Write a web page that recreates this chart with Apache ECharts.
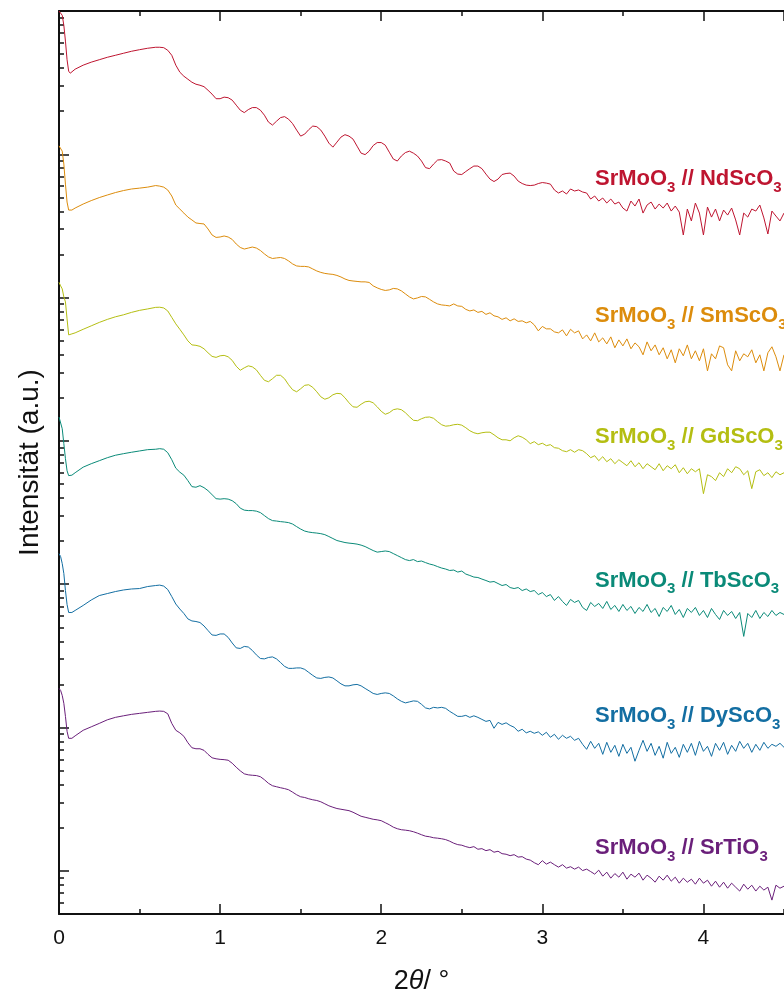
<!DOCTYPE html>
<html>
<head>
<meta charset="utf-8">
<title>XRR SrMoO3 films</title>
<script src="https://cdn.jsdelivr.net/npm/echarts@6/dist/echarts.min.js"></script>
<style>
  html, body { margin: 0; padding: 0; background: #ffffff; }
  #chart { width: 784px; height: 1000px; }
</style>
</head>
<body>
<div id="chart"></div>
<script>
// Scattering angle 2θ in degrees (shared measurement grid)
const twoTheta = [
  0, 0.01, 0.02, 0.03, 0.04, 0.05, 0.06, 0.07, 0.08, 0.1, 0.15, 0.2, 0.25, 0.3, 0.35, 0.4, 0.45, 0.5, 0.55,
  0.6, 0.625, 0.65, 0.675, 0.7, 0.725, 0.75, 0.775, 0.8, 0.825,
  0.85, 0.875, 0.9, 0.925, 0.95, 0.975, 1.0, 1.025, 1.05, 1.075,
  1.1, 1.125, 1.15, 1.175, 1.2, 1.225, 1.25, 1.275, 1.3, 1.325,
  1.35, 1.375, 1.4, 1.425, 1.45, 1.475, 1.5, 1.525, 1.55, 1.575,
  1.6, 1.625, 1.65, 1.675, 1.7, 1.725, 1.75, 1.775, 1.8, 1.825,
  1.85, 1.875, 1.9, 1.925, 1.95, 1.975, 2.0, 2.025, 2.05, 2.075,
  2.1, 2.125, 2.15, 2.175, 2.2, 2.225, 2.25, 2.275, 2.3, 2.325,
  2.35, 2.375, 2.4, 2.425, 2.45, 2.475, 2.5, 2.525, 2.55, 2.575,
  2.6, 2.625, 2.65, 2.675, 2.7, 2.725, 2.75, 2.775, 2.8, 2.825,
  2.85, 2.875, 2.9, 2.925, 2.95, 2.975, 3.0, 3.025, 3.05, 3.075,
  3.1, 3.125, 3.15, 3.175, 3.2, 3.225, 3.25, 3.275, 3.3, 3.325,
  3.35, 3.375, 3.4, 3.425, 3.45, 3.475, 3.5, 3.525, 3.55, 3.575,
  3.6, 3.625, 3.65, 3.675, 3.7, 3.725, 3.75, 3.775, 3.8, 3.825,
  3.85, 3.875, 3.9, 3.925, 3.95, 3.975, 4.0, 4.025, 4.05, 4.075,
  4.1, 4.125, 4.15, 4.175, 4.2, 4.225, 4.25, 4.275, 4.3, 4.325,
  4.35, 4.375, 4.4, 4.425, 4.45, 4.475, 4.5
];

// log10 of the reflected intensity (a.u., curves stacked with offsets)
const logNdScO3 = [
  6.00, 6.00, 5.97, 5.90, 5.79, 5.66, 5.58, 5.566, 5.576, 5.594, 5.622, 5.643, 5.660, 5.677, 5.691, 5.705, 5.719, 5.730, 5.740,
  5.747, 5.747, 5.744, 5.726, 5.691, 5.622, 5.573, 5.545, 5.524, 5.503,
  5.489, 5.482, 5.472, 5.447, 5.420, 5.388, 5.388, 5.399, 5.395, 5.378,
  5.343, 5.308, 5.291, 5.312, 5.326, 5.326, 5.308, 5.273, 5.225, 5.204,
  5.231, 5.256, 5.263, 5.245, 5.214, 5.169, 5.127, 5.141, 5.172, 5.197,
  5.193, 5.169, 5.127, 5.078, 5.050, 5.085, 5.120, 5.137, 5.127, 5.106,
  5.057, 5.008, 4.998, 5.022, 5.061, 5.082, 5.082, 5.064, 5.015, 4.967,
  4.953, 4.988, 5.012, 5.022, 5.008, 4.988, 4.953, 4.907, 4.900, 4.932,
  4.960, 4.963, 4.953, 4.939, 4.883, 4.862, 4.859, 4.880, 4.900, 4.918,
  4.918, 4.900, 4.862, 4.827, 4.810, 4.827, 4.859, 4.866, 4.869, 4.848,
  4.813, 4.796, 4.785, 4.782, 4.785, 4.796, 4.803, 4.799, 4.792, 4.751,
  4.730, 4.744, 4.723, 4.758, 4.744, 4.751, 4.737, 4.730, 4.688, 4.709,
  4.674, 4.695, 4.660, 4.688, 4.653, 4.667, 4.625, 4.604, 4.674, 4.639,
  4.688, 4.590, 4.646, 4.667, 4.618, 4.653, 4.625, 4.660, 4.604, 4.639,
  4.597, 4.437, 4.618, 4.535, 4.660, 4.590, 4.437, 4.632, 4.562, 4.618,
  4.535, 4.611, 4.576, 4.625, 4.542, 4.437, 4.590, 4.562, 4.618, 4.604,
  4.646, 4.556, 4.444, 4.604, 4.569, 4.535, 4.590
];

const logSmScO3 = [
  5.059, 5.050, 5.022, 4.932, 4.792, 4.667, 4.611, 4.604, 4.611, 4.625, 4.653, 4.677, 4.698, 4.716, 4.733, 4.747, 4.758, 4.764, 4.771,
  4.782, 4.778, 4.771, 4.751, 4.709, 4.646, 4.618, 4.590, 4.562, 4.542,
  4.521, 4.517, 4.514, 4.479, 4.437, 4.420, 4.423, 4.430, 4.423, 4.406,
  4.374, 4.350, 4.339, 4.346, 4.353, 4.346, 4.329, 4.305, 4.284, 4.273,
  4.277, 4.280, 4.273, 4.256, 4.235, 4.221, 4.218, 4.218, 4.214, 4.200,
  4.186, 4.176, 4.169, 4.165, 4.162, 4.155, 4.144, 4.130, 4.120, 4.116,
  4.113, 4.110, 4.110, 4.106, 4.082, 4.068, 4.057, 4.050, 4.054, 4.064,
  4.061, 4.047, 4.026, 4.005, 3.991, 3.998, 4.008, 4.005, 3.988, 3.970,
  3.956, 3.949, 3.946, 3.942, 3.956, 3.942, 3.939, 3.918, 3.907, 3.914,
  3.897, 3.904, 3.883, 3.894, 3.873, 3.866, 3.848, 3.859, 3.838, 3.852,
  3.834, 3.838, 3.824, 3.834, 3.810, 3.768, 3.799, 3.782, 3.782, 3.761,
  3.754, 3.775, 3.733, 3.779, 3.754, 3.768, 3.712, 3.740, 3.698, 3.754,
  3.691, 3.719, 3.677, 3.726, 3.650, 3.705, 3.663, 3.712, 3.643, 3.684,
  3.657, 3.601, 3.691, 3.629, 3.670, 3.601, 3.650, 3.573, 3.636, 3.545,
  3.643, 3.594, 3.670, 3.573, 3.629, 3.559, 3.643, 3.489, 3.608, 3.573,
  3.663, 3.650, 3.531, 3.489, 3.629, 3.559, 3.608, 3.587, 3.636, 3.545,
  3.601, 3.489, 3.615, 3.657, 3.587, 3.489, 3.601
];

const logGdScO3 = [
  4.107, 4.082, 4.061, 4.005, 3.970, 3.852, 3.740, 3.740, 3.747, 3.754, 3.779, 3.803, 3.827, 3.848, 3.866, 3.880, 3.897, 3.911, 3.921,
  3.932, 3.933, 3.928, 3.907, 3.862, 3.817, 3.779, 3.740, 3.698, 3.670,
  3.667, 3.660, 3.643, 3.615, 3.590, 3.583, 3.594, 3.597, 3.587, 3.562,
  3.521, 3.493, 3.510, 3.524, 3.517, 3.496, 3.458, 3.423, 3.413, 3.434,
  3.458, 3.458, 3.434, 3.392, 3.357, 3.343, 3.364, 3.388, 3.392, 3.374,
  3.343, 3.308, 3.291, 3.301, 3.322, 3.332, 3.329, 3.301, 3.266, 3.238,
  3.235, 3.256, 3.273, 3.277, 3.266, 3.238, 3.207, 3.186, 3.197, 3.218,
  3.224, 3.218, 3.197, 3.169, 3.144, 3.141, 3.155, 3.165, 3.167, 3.158,
  3.134, 3.113, 3.103, 3.106, 3.113, 3.116, 3.110, 3.092, 3.071, 3.057,
  3.050, 3.057, 3.061, 3.061, 3.043, 3.022, 3.008, 3.008, 3.001, 3.022,
  3.036, 3.026, 3.008, 2.981, 2.995, 2.974, 2.984, 2.967, 2.974, 2.953,
  2.949, 2.932, 2.925, 2.939, 2.921, 2.939, 2.932, 2.911, 2.883, 2.897,
  2.862, 2.890, 2.855, 2.876, 2.841, 2.869, 2.848, 2.827, 2.862, 2.820,
  2.848, 2.806, 2.841, 2.820, 2.799, 2.841, 2.792, 2.827, 2.806, 2.834,
  2.778, 2.813, 2.771, 2.806, 2.785, 2.806, 2.632, 2.764, 2.751, 2.723,
  2.778, 2.751, 2.806, 2.778, 2.820, 2.806, 2.764, 2.792, 2.667, 2.785,
  2.799, 2.758, 2.778, 2.744, 2.785, 2.764, 2.778
];

const logTbScO3 = [
  3.167, 3.155, 3.085, 2.981, 2.876, 2.792, 2.758, 2.754, 2.761, 2.778, 2.817, 2.841, 2.862, 2.883, 2.900, 2.911, 2.921, 2.930, 2.939,
  2.942, 2.946, 2.942, 2.918, 2.869, 2.810, 2.782, 2.761, 2.723, 2.681,
  2.677, 2.688, 2.674, 2.653, 2.625, 2.597, 2.594, 2.597, 2.594, 2.583,
  2.562, 2.531, 2.517, 2.514, 2.514, 2.510, 2.500, 2.479, 2.458, 2.444,
  2.441, 2.437, 2.434, 2.430, 2.420, 2.402, 2.385, 2.371, 2.364, 2.360,
  2.357, 2.353, 2.346, 2.333, 2.319, 2.305, 2.298, 2.291, 2.287, 2.284,
  2.280, 2.273, 2.263, 2.249, 2.235, 2.224, 2.228, 2.232, 2.228, 2.214,
  2.200, 2.186, 2.172, 2.165, 2.172, 2.158, 2.162, 2.151, 2.141, 2.134,
  2.123, 2.113, 2.106, 2.096, 2.099, 2.085, 2.092, 2.071, 2.061, 2.050,
  2.047, 2.036, 2.026, 2.015, 2.019, 2.005, 1.991, 1.998, 1.977, 1.970,
  1.977, 1.956, 1.967, 1.949, 1.956, 1.928, 1.942, 1.914, 1.928, 1.887,
  1.914, 1.880, 1.852, 1.894, 1.873, 1.887, 1.838, 1.817, 1.873, 1.845,
  1.866, 1.831, 1.880, 1.824, 1.852, 1.810, 1.859, 1.817, 1.845, 1.796,
  1.838, 1.810, 1.859, 1.803, 1.831, 1.775, 1.838, 1.810, 1.852, 1.789,
  1.824, 1.768, 1.831, 1.803, 1.838, 1.782, 1.817, 1.768, 1.831, 1.789,
  1.754, 1.817, 1.782, 1.810, 1.761, 1.803, 1.636, 1.796, 1.768, 1.817,
  1.761, 1.803, 1.775, 1.817, 1.782, 1.803, 1.789
];

const logDyScO3 = [
  2.214, 2.193, 2.144, 2.075, 1.956, 1.859, 1.803, 1.792, 1.803, 1.817, 1.852, 1.890, 1.921, 1.935, 1.949, 1.960, 1.967, 1.970, 1.984,
  1.991, 1.994, 1.987, 1.963, 1.914, 1.862, 1.827, 1.796, 1.758, 1.744,
  1.740, 1.733, 1.709, 1.677, 1.646, 1.643, 1.653, 1.653, 1.629, 1.590,
  1.556, 1.552, 1.566, 1.562, 1.538, 1.507, 1.482, 1.479, 1.489, 1.493,
  1.479, 1.454, 1.427, 1.413, 1.413, 1.416, 1.416, 1.406, 1.385, 1.364,
  1.346, 1.343, 1.350, 1.353, 1.346, 1.326, 1.305, 1.291, 1.291, 1.298,
  1.301, 1.291, 1.273, 1.256, 1.238, 1.231, 1.238, 1.242, 1.238, 1.221,
  1.200, 1.183, 1.172, 1.179, 1.186, 1.183, 1.162, 1.137, 1.130, 1.141,
  1.137, 1.141, 1.134, 1.113, 1.096, 1.078, 1.078, 1.085, 1.071, 1.082,
  1.071, 1.057, 1.043, 1.050, 0.995, 1.036, 1.022, 1.033, 1.015, 1.002,
  0.974, 0.988, 0.963, 0.974, 0.960, 0.970, 0.946, 0.967, 0.932, 0.953,
  0.918, 0.946, 0.925, 0.939, 0.911, 0.925, 0.883, 0.848, 0.904, 0.855,
  0.890, 0.813, 0.897, 0.827, 0.876, 0.799, 0.883, 0.820, 0.862, 0.765,
  0.841, 0.911, 0.834, 0.890, 0.806, 0.869, 0.786, 0.897, 0.820, 0.862,
  0.792, 0.883, 0.827, 0.890, 0.806, 0.904, 0.834, 0.869, 0.799, 0.890,
  0.841, 0.897, 0.813, 0.876, 0.834, 0.904, 0.855, 0.890, 0.827, 0.883,
  0.841, 0.897, 0.855, 0.883, 0.869, 0.890, 0.862
];

const logSrTiO3 = [
  1.273, 1.259, 1.224, 1.169, 1.078, 0.974, 0.925, 0.914, 0.925, 0.942, 0.981, 1.005, 1.029, 1.054, 1.071, 1.082, 1.092, 1.099, 1.106,
  1.113, 1.115, 1.113, 1.096, 1.029, 0.981, 0.963, 0.939, 0.894, 0.859,
  0.852, 0.852, 0.841, 0.813, 0.789, 0.782, 0.778, 0.776, 0.772, 0.751,
  0.723, 0.698, 0.677, 0.670, 0.667, 0.665, 0.657, 0.636, 0.611, 0.594,
  0.587, 0.580, 0.574, 0.566, 0.549, 0.531, 0.517, 0.512, 0.503, 0.496,
  0.491, 0.482, 0.468, 0.454, 0.444, 0.435, 0.430, 0.425, 0.420, 0.409,
  0.395, 0.381, 0.374, 0.367, 0.360, 0.356, 0.350, 0.336, 0.322, 0.305,
  0.294, 0.287, 0.284, 0.280, 0.273, 0.263, 0.252, 0.242, 0.238, 0.231,
  0.228, 0.224, 0.218, 0.207, 0.193, 0.183, 0.179, 0.169, 0.162, 0.169,
  0.151, 0.155, 0.141, 0.148, 0.130, 0.137, 0.120, 0.116, 0.106, 0.113,
  0.096, 0.099, 0.082, 0.075, 0.057, 0.043, 0.071, 0.047, 0.061, 0.043,
  0.026, 0.043, 0.019, 0.029, 0.012, 0.026, 0.002, 0.012, -0.005, -0.023,
  0.005, -0.037, -0.009, -0.051, -0.019, -0.044, -0.009, -0.058, -0.023, -0.044,
  -0.016, -0.065, -0.030, -0.051, -0.079, -0.037, -0.065, -0.030, -0.072, -0.044,
  -0.086, -0.051, -0.079, -0.058, -0.093, -0.051, -0.086, -0.065, -0.107, -0.072,
  -0.114, -0.079, -0.121, -0.086, -0.114, -0.141, -0.093, -0.128, -0.100, -0.141,
  -0.107, -0.134, -0.114, -0.204, -0.100, -0.121, -0.107
];

// Film / substrate names and their colours
const filmName = 'SrMoO3';
const substrates = ['NdScO3', 'SmScO3', 'GdScO3', 'TbScO3', 'DyScO3', 'SrTiO3'];
const seriesColors = ['#BE1530', '#DC8C0C', '#B4BE12', '#0A8A78', '#136EA2', '#6A1F7A'];
const seriesData = [logNdScO3, logSmScO3, logGdScO3, logTbScO3, logDyScO3, logSrTiO3];

// Axis ticks: log decades with 2..9 minors
const decadeExponents = [0, 1, 2, 3, 4, 5, 6];
const minorMultipliers = [2, 3, 4, 5, 6, 7, 8, 9];

const Y_MIN = Math.log10(0.5);
const Y_MAX = 6;
const minorLogTicks = [];
for (let k = -1; k < Y_MAX; k++) {
  minorMultipliers.forEach(m => {
    const v = k + Math.log10(m);
    if (v > Y_MIN + 1e-6 && v < Y_MAX) minorLogTicks.push(v);
  });
}

const FONT = "'Liberation Sans', Arial, Helvetica, sans-serif";
const AXIS_COLOR = '#111111';

function splitFormula(s) {
  // 'NdScO3' -> ['NdScO', '3']
  const m = s.match(/^(.*?)(\d+)$/);
  return m ? [m[1], m[2]] : [s, ''];
}

const chart = echarts.init(document.getElementById('chart'), null, { renderer: 'canvas', width: 784, height: 1000 });

const series = seriesData.map((arr, i) => ({
  name: filmName + ' // ' + substrates[i],
  type: 'line',
  xAxisIndex: 0,
  yAxisIndex: 0,
  data: twoTheta.map((t, j) => [t, arr[j]]),
  showSymbol: false,
  symbol: 'none',
  smooth: false,
  clip: true,
  silent: true,
  lineStyle: { color: seriesColors[i], width: 1 },
  itemStyle: { color: seriesColors[i] },
  z: 3
}));

// Sample labels placed to the right of each curve
const labelCenters = [179, 316, 437, 580.5, 716, 848];
const labelGraphics = substrates.map((sub, i) => {
  const [fBase, fSub] = splitFormula(filmName);
  const [sBase, sSub] = splitFormula(sub);
  const c = seriesColors[i];
  return {
    type: 'text',
    x: 595,
    y: labelCenters[i],
    silent: true,
    z: 10,
    style: {
      text: '{m|' + fBase + '}{s|' + fSub + '}{m| // ' + sBase + '}{s|' + sSub + '}',
      align: 'left',
      verticalAlign: 'middle',
      rich: {
        m: { fontSize: 22, fontWeight: 'bold', fontFamily: FONT, fill: c, lineHeight: 32 },
        s: { fontSize: 15, fontWeight: 'bold', fontFamily: FONT, fill: c, lineHeight: 15, verticalAlign: 'bottom' }
      }
    }
  };
});

const baseX = {
  type: 'value', min: 0, max: 4.5, gridIndex: 0,
  splitLine: { show: false }, minorTick: { show: false }
};

const option = {
  animation: false,
  backgroundColor: '#ffffff',
  grid: { left: 59, top: 11, width: 729, height: 905, containLabel: false },
  xAxis: [
    Object.assign({}, baseX, {
      position: 'bottom', interval: 1,
      axisLine: { show: true, onZero: false, lineStyle: { color: AXIS_COLOR, width: 2 } },
      axisTick: { show: true, inside: true, length: 10, lineStyle: { color: AXIS_COLOR, width: 1.5 } },
      axisLabel: { show: true, fontSize: 21, color: AXIS_COLOR, fontFamily: FONT, margin: 14, showMaxLabel: false },
      name: '{r|2}{i|θ}{r|/ °}',
      nameLocation: 'middle',
      nameGap: 54,
      nameTextStyle: {
        fontSize: 27, color: AXIS_COLOR, fontFamily: FONT,
        rich: {
          r: { fontSize: 27, color: AXIS_COLOR, fontFamily: FONT },
          i: { fontSize: 27, color: AXIS_COLOR, fontFamily: FONT, fontStyle: 'italic' }
        }
      }
    }),
    Object.assign({}, baseX, {
      position: 'bottom', interval: 0.5,
      axisLine: { show: false, onZero: false },
      axisTick: { show: true, inside: true, length: 5, lineStyle: { color: AXIS_COLOR, width: 1.5 } },
      axisLabel: { show: false }
    }),
    Object.assign({}, baseX, {
      position: 'top', interval: 1,
      axisLine: { show: true, onZero: false, lineStyle: { color: AXIS_COLOR, width: 2 } },
      axisTick: { show: true, inside: true, length: 10, lineStyle: { color: AXIS_COLOR, width: 1.5 } },
      axisLabel: { show: false }
    }),
    Object.assign({}, baseX, {
      position: 'top', interval: 0.5,
      axisLine: { show: false, onZero: false },
      axisTick: { show: true, inside: true, length: 5, lineStyle: { color: AXIS_COLOR, width: 1.5 } },
      axisLabel: { show: false }
    })
  ],
  yAxis: [
    {
      type: 'value', min: Y_MIN, max: Y_MAX, position: 'left', gridIndex: 0,
      axisLine: { show: true, onZero: false, lineStyle: { color: AXIS_COLOR, width: 2 } },
      axisTick: { show: true, inside: true, length: 10, customValues: decadeExponents, lineStyle: { color: AXIS_COLOR, width: 1.5 } },
      axisLabel: { show: false },
      splitLine: { show: false },
      name: 'Intensität (a.u.)',
      nameLocation: 'middle',
      nameGap: 15,
      nameTextStyle: { fontSize: 28, color: AXIS_COLOR, fontFamily: FONT }
    },
    {
      type: 'value', min: Y_MIN, max: Y_MAX, position: 'left', gridIndex: 0,
      axisLine: { show: false, onZero: false },
      axisTick: { show: true, inside: true, length: 5, customValues: minorLogTicks, lineStyle: { color: AXIS_COLOR, width: 1.5 } },
      axisLabel: { show: false },
      splitLine: { show: false }
    }
  ],
  series: series,
  graphic: labelGraphics
};

chart.setOption(option);
</script>
</body>
</html>
